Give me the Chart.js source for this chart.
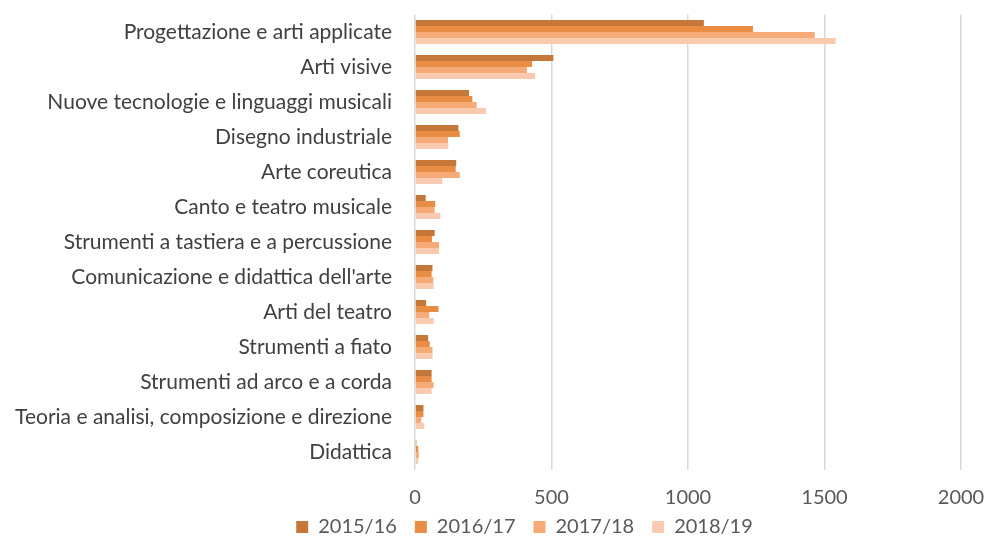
<!DOCTYPE html>
<html>
<head>
<meta charset="utf-8">
<script src="https://cdn.jsdelivr.net/npm/chart.js@4"></script>
<style>
  html, body { margin: 0; padding: 0; background: #fff; }
  #wrap { width: 986px; height: 536px; }
</style>
</head>
<body>
<div id="wrap"><canvas id="myChart" width="986" height="536"></canvas></div>
<script>
const categories = [
    'Progettazione e arti applicate',
    'Arti visive',
    'Nuove tecnologie e linguaggi musicali',
    'Disegno industriale',
    'Arte coreutica',
    'Canto e teatro musicale',
    'Strumenti a tastiera e a percussione',
    "Comunicazione e didattica dell'arte",
    'Arti del teatro',
    'Strumenti a fiato',
    'Strumenti ad arco e a corda',
    'Teoria e analisi, composizione e direzione',
    'Didattica'
];
const years = ['2015/16', '2016/17', '2017/18', '2018/19'];
const v2015 = [1058, 507, 198, 159, 151, 39, 72, 64, 41, 48, 61, 31, 5];
const v2016 = [1238, 429, 210, 164, 149, 74, 62, 61, 86, 54, 61, 31, 12];
const v2017 = [1464, 410, 226, 121, 164, 72, 88, 67, 52, 64, 68, 23, 14];
const v2018 = [1541, 440, 260, 122, 100, 93, 88, 68, 68, 64, 61, 34, 12];
const xTicks = [0, 500, 1000, 1500, 2000];

const colors = ['#C5773A', '#E98D44', '#F5AA78', '#F9CAB0'];
const font = "Lato, 'Open Sans', sans-serif";

// legend in the original sits right of centre and tight under the ticks
const shiftLegend = {
    id: 'shiftLegend',
    afterLayout(chart) {
        const lg = chart.legend;
        lg.left += 39;
        lg.right += 39;
        lg.top -= 10.5;
        lg.bottom -= 10.5;
    }
};

const ctx = document.getElementById('myChart');

new Chart(ctx, {
    type: 'bar',
    data: {
        labels: categories,
        datasets: [v2015, v2016, v2017, v2018].map((d, i) => ({
            label: years[i],
            data: d,
            backgroundColor: colors[i],
            borderWidth: 0,
            categoryPercentage: 0.69,
            barPercentage: 1
        }))
    },
    options: {
        indexAxis: 'y',
        responsive: false,
        animation: false,
        layout: {
            padding: { left: 10, right: 25, top: 14.5, bottom: -21.5 }
        },
        scales: {
            x: {
                min: 0,
                max: 2000,
                afterBuildTicks: (axis) => {
                    axis.ticks = xTicks.map(v => ({ value: v }));
                },
                afterFit: (axis) => {
                    axis.height = 40;
                    axis.paddingLeft = 0;
                    axis.paddingRight = 0;
                },
                grid: {
                    color: '#d9d9d9',
                    lineWidth: 1.5,
                    drawTicks: false
                },
                border: { display: false },
                ticks: {
                    color: '#595959',
                    padding: 16,
                    callback: (v) => String(v),
                    font: { family: font, size: 20 }
                }
            },
            y: {
                grid: { display: false },
                border: { display: false },
                afterFit: (axis) => {
                    axis.width = 405;
                    axis.paddingTop = 0;
                    axis.paddingBottom = 0;
                },
                ticks: {
                    color: '#404040',
                    padding: 15,
                    autoSkip: false,
                    font: { family: font, size: 21 }
                }
            }
        },
        plugins: {
            legend: {
                position: 'bottom',
                labels: {
                    color: '#595959',
                    boxWidth: 12,
                    boxHeight: 12,
                    padding: 18,
                    font: { family: font, size: 20 }
                }
            },
            tooltip: { enabled: false }
        }
    },
    plugins: [shiftLegend]
});
</script>
</body>
</html>
